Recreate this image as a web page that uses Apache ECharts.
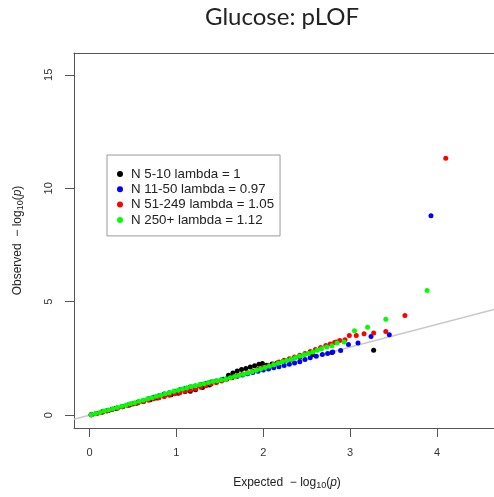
<!DOCTYPE html>
<html><head><meta charset="utf-8">
<script src="https://cdn.jsdelivr.net/npm/echarts@6/dist/echarts.min.js"></script>
<style>html,body{margin:0;padding:0;background:#fff}#c{width:494px;height:497px}</style>
</head><body><div id="c"></div>
<script>
// ---- data ----
const titleText = 'Glucose: pLOF';
const xTicks = [0, 1, 2, 3, 4];
const yTicks = [0, 5, 10, 15];
const xRange = [-0.178, 4.655];
const yRange = [-0.564, 15.96];
const refLine = [-0.178, 4.655];
const groupNames = ['N 5-10 lambda = 1', 'N 11-50 lambda = 0.97', 'N 51-249 lambda = 1.05', 'N 250+ lambda = 1.12'];
const groupColors = ['#000000', '#0000ff', '#ff0000', '#00ff00'];

const blackExp = [0.02,0.08,0.15,0.22,0.3,0.38,0.46,0.54,0.62,0.7,0.78,0.86,0.94,1.02,1.1,1.16,1.22,1.3,1.38,1.46,1.54,1.6,1.65,1.7,1.75,1.8,1.85,1.9,1.95,1.99,2.04,2.1,2.16,2.23,2.32,2.42,2.57,2.79,3.27];
const blackObs = [0.02,0.08,0.14,0.21,0.29,0.37,0.45,0.53,0.6,0.68,0.76,0.83,0.9,0.97,1.04,1.06,1.12,1.22,1.33,1.45,1.58,1.76,1.86,1.95,2.01,2.06,2.12,2.18,2.24,2.28,2.2,2.26,2.3,2.38,2.46,2.55,2.66,2.76,2.86];

const blueExp = [0.02,0.08,0.14,0.2,0.26,0.32,0.38,0.44,0.5,0.56,0.62,0.68,0.74,0.8,0.86,0.92,0.98,1.04,1.1,1.16,1.22,1.28,1.34,1.4,1.46,1.52,1.58,1.64,1.7,1.76,1.82,1.88,1.94,2.0,2.06,2.12,2.18,2.24,2.3,2.36,2.42,2.48,2.54,2.61,2.68,2.74,2.8,2.89,2.98,3.09,3.24,3.45,3.93];
const blueObs = [0.02,0.08,0.14,0.2,0.26,0.32,0.38,0.45,0.51,0.58,0.65,0.72,0.79,0.86,0.93,0.99,1.06,1.12,1.18,1.24,1.29,1.35,1.4,1.46,1.51,1.56,1.61,1.66,1.72,1.77,1.83,1.88,1.94,1.99,2.04,2.09,2.14,2.19,2.24,2.3,2.36,2.45,2.53,2.6,2.68,2.72,2.78,2.85,3.11,3.18,3.47,3.55,8.79];

const redExp = [0.02,0.08,0.14,0.2,0.26,0.32,0.38,0.44,0.5,0.56,0.62,0.68,0.74,0.8,0.86,0.92,0.98,1.04,1.1,1.16,1.22,1.28,1.34,1.4,1.46,1.52,1.58,1.64,1.7,1.76,1.82,1.88,1.94,2.0,2.06,2.12,2.18,2.24,2.3,2.36,2.42,2.48,2.54,2.6,2.66,2.72,2.77,2.82,2.84,2.88,2.94,2.99,3.07,3.16,3.27,3.41,3.63,4.10];
const redObs = [0.02,0.08,0.13,0.19,0.25,0.31,0.37,0.43,0.49,0.55,0.6,0.66,0.72,0.77,0.83,0.88,0.94,0.99,1.05,1.11,1.17,1.23,1.3,1.37,1.44,1.51,1.58,1.65,1.73,1.8,1.87,1.95,2.02,2.1,2.18,2.26,2.34,2.42,2.49,2.57,2.64,2.72,2.81,2.9,2.98,3.07,3.14,3.2,3.22,3.29,3.32,3.51,3.51,3.59,3.62,3.69,4.39,11.32];

const greenExp = [0.02,0.07,0.12,0.17,0.22,0.27,0.32,0.37,0.42,0.47,0.52,0.57,0.62,0.67,0.72,0.77,0.82,0.87,0.92,0.97,1.02,1.07,1.12,1.17,1.22,1.27,1.32,1.37,1.42,1.47,1.52,1.57,1.62,1.67,1.72,1.77,1.82,1.87,1.92,1.97,2.02,2.07,2.12,2.17,2.22,2.27,2.32,2.37,2.42,2.47,2.52,2.57,2.62,2.67,2.73,2.79,2.85,2.93,3.05,3.20,3.41,3.885];
const greenObs = [0.02,0.07,0.12,0.18,0.23,0.28,0.34,0.39,0.44,0.5,0.55,0.61,0.66,0.72,0.77,0.83,0.88,0.94,0.99,1.05,1.1,1.16,1.21,1.26,1.3,1.35,1.39,1.44,1.48,1.52,1.56,1.6,1.65,1.7,1.75,1.8,1.86,1.92,1.98,2.04,2.1,2.16,2.22,2.29,2.35,2.41,2.47,2.53,2.6,2.66,2.72,2.79,2.86,2.93,3.0,3.06,3.18,3.22,3.72,3.87,4.23,5.49];

const groupExp = [blackExp, blueExp, redExp, greenExp];
const groupObs = [blackObs, blueObs, redObs, greenObs];

// ---- chart ----
const chart = echarts.init(document.getElementById('c'), null, {renderer: 'canvas'});
const FONT = 'Liberation Sans';
const AX = '#555';
const nameRich = {
  s: {fontFamily: FONT, fontSize: 9, color: '#222', padding: [6, 0, 0, 0]},
  i: {fontFamily: FONT, fontSize: 12, color: '#222', fontStyle: 'italic'}
};
const series = [{
  type: 'line', silent: true, symbol: 'none', z: 1,
  data: refLine.map(v => [v, v]),
  lineStyle: {color: '#c8c8c8', width: 1.5}
}];
groupNames.forEach((n, k) => {
  series.push({
    type: 'scatter', name: n, symbol: 'circle', symbolSize: 5, z: 2 + k,
    itemStyle: {color: groupColors[k], opacity: 1},
    data: groupExp[k].map((e, i) => [e, groupObs[k][i]])
  });
});
chart.setOption({
  animation: false,
  backgroundColor: '#fff',
  graphic: [{
    type: 'text', x: 282, y: 17,
    style: {text: titleText, align: 'center', verticalAlign: 'middle', fontFamily: 'Lato', fontSize: 24, fill: '#222'}
  }],
  grid: {left: 74, top: 53, right: 0, bottom: 69, show: false},
  legend: {
    orient: 'vertical', left: 107, top: 155, padding: [12, 6, 9, 10],
    itemWidth: 6, itemHeight: 6, itemGap: 1.3, icon: 'circle', selectedMode: false,
    borderColor: '#999', borderWidth: 1, backgroundColor: '#fff',
    textStyle: {fontFamily: FONT, fontSize: 13.3, color: '#222', lineHeight: 14, padding: [0, 0, 0, 3]},
    data: groupNames
  },
  xAxis: [{
    type: 'value', min: xRange[0], max: xRange[1], position: 'bottom',
    splitLine: {show: false},
    axisLine: {show: true, onZero: false, lineStyle: {color: AX, width: 1}},
    axisTick: {show: true, customValues: xTicks, length: 9, lineStyle: {color: AX}},
    axisLabel: {customValues: xTicks, margin: 19, fontFamily: FONT, fontSize: 11, color: '#333'},
    name: 'Expected  \u2212 log{s|10}({i|p})', nameLocation: 'middle', nameGap: 47,
    nameTextStyle: {fontFamily: FONT, fontSize: 12, color: '#222', rich: nameRich, padding: [0, 0, 0, 6]}
  }, {
    type: 'value', min: xRange[0], max: xRange[1], position: 'top',
    splitLine: {show: false},
    axisLine: {show: true, onZero: false, lineStyle: {color: AX, width: 1}},
    axisTick: {show: false}, axisLabel: {show: false}
  }],
  yAxis: {
    type: 'value', min: yRange[0], max: yRange[1],
    splitLine: {show: false},
    axisLine: {show: true, onZero: false, lineStyle: {color: AX, width: 1}},
    axisTick: {show: true, customValues: yTicks, length: 9, lineStyle: {color: AX}},
    axisLabel: {customValues: yTicks, margin: 20, rotate: 90, fontFamily: FONT, fontSize: 11, color: '#333'},
    name: 'Observed  \u2212 log{s|10}({i|p})', nameLocation: 'middle', nameGap: 49,
    nameTextStyle: {fontFamily: FONT, fontSize: 12, color: '#222', rich: nameRich}
  },
  series: series
});
</script></body></html>
